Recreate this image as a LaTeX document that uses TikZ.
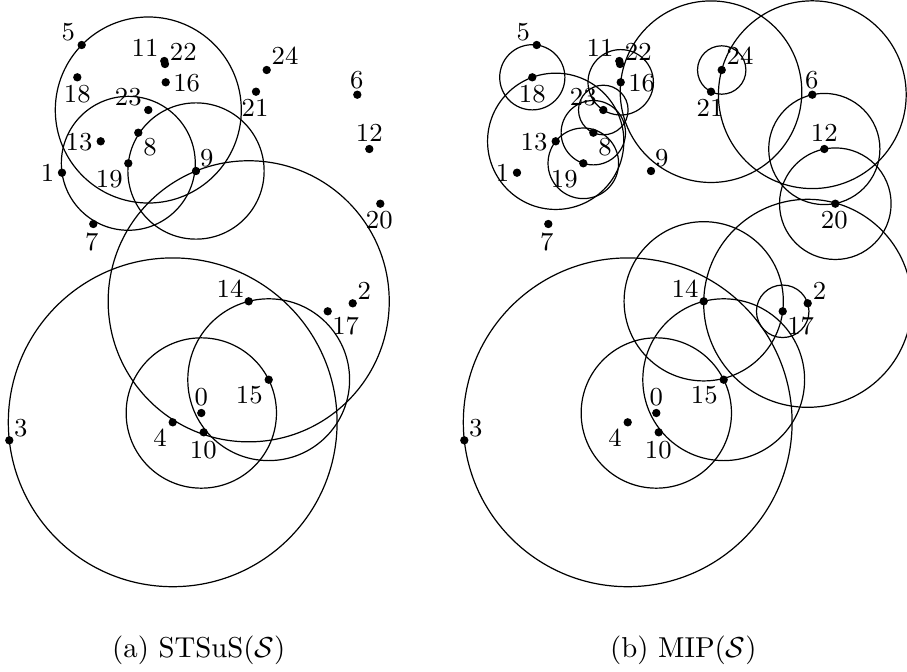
\documentclass[tikz,border=0pt]{standalone}
\usetikzlibrary{calc}
\begin{document}
\begin{tikzpicture}[x=0.3472pt,y=-0.3472pt,
  dot/.style={circle,fill=black,inner sep=0pt,minimum size=2.9pt},
  lbl/.style={font=\fontsize{9}{11}\selectfont,inner sep=0pt},
  capt/.style={font=\fontsize{10}{12}\selectfont,inner sep=0pt},
  ring/.style={draw=black,line width=0.42pt}]
\useasboundingbox (0,0) rectangle (907,671);
\clip (0,0) rectangle (907,671);
\foreach \n/\px/\py/\dx/\dy in {
  0/201.3/413/0/-16, 1/62/172.7/-14.5/0, 2/352.7/303.3/11.7/-12.3,
  3/9.3/440.3/11.4/-12, 4/172.7/422.3/-12.7/15, 5/81.7/45/-13.4/-13.3,
  6/357.3/94.7/-0.6/-14.7, 7/93.3/224/-1.6/17.7, 8/138.3/132.7/11.7/14,
  9/196/171/10.7/-12.7, 10/203.7/432.3/-0.4/17.7, 11/164.3/61/-19.3/-12.7,
  12/369.3/149/0/-16.3, 13/100.7/141.3/-21.7/0.4, 14/248.7/301.3/-18.7/-12.3,
  15/268.7/379.7/-19.4/15.3, 16/165.7/82.3/21/0.4, 17/327.7/311.3/18/14.4,
  18/77.3/77.3/0/17, 19/128.3/163.3/-19/15.7, 20/380.3/203.7/-1/16.3,
  21/256/91.7/-1/16.6, 22/165/64/18.3/-12.3, 23/148.3/110/-20/-12.7,
  24/266.7/70/18.3/-14} {
  \node[dot] (a\n) at (\px,\py) {};
  \node[lbl] (la\n) at ({\px+\dx},{\py+\dy}) {\n};
  \node[dot] (b\n) at ({\px+455},\py) {};
  \node[lbl] (lb\n) at ({\px+455+\dx},{\py+\dy}) {\n};
}
% panel (a) circles: centre / point on circle
\foreach \c/\s in {23/5, 19/1, 9/19, 14/9, 15/14, 0/15, 4/3}
  \draw[ring] let \p1=($(a\c)-(a\s)$), \n1={veclen(\x1,\y1)} in (a\c) circle[radius=\n1];
% panel (b) circles
\foreach \c/\s in {18/5, 13/18, 16/23, 23/8, 8/19, 19/13, 21/16, 24/21, 6/24,
                   12/6, 20/12, 14/17, 2/14, 17/2, 15/14, 0/15, 4/3}
  \draw[ring] let \p1=($(b\c)-(b\s)$), \n1={veclen(\x1,\y1)} in (b\c) circle[radius=\n1];
\node[capt,anchor=base] (capa) at (198.8,657) {(a) STSuS($\mathcal{S}$)};
\node[capt,anchor=base] (capb) at (683.4,657) {(b) MIP($\mathcal{S}$)};
\end{tikzpicture}
\end{document}
